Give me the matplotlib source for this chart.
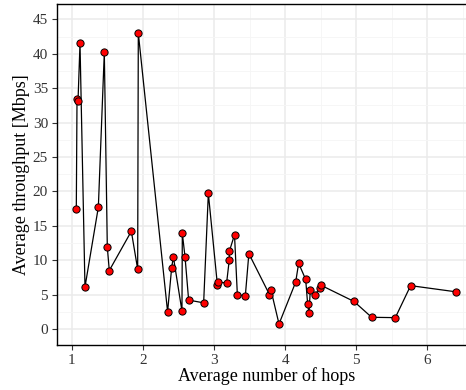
import numpy as np
import matplotlib.pyplot as plt
from matplotlib.ticker import MultipleLocator

# average hops vs throughput
hops = [1.063, 1.073, 1.087, 1.115, 1.185, 1.373, 1.457, 1.499, 1.527, 1.837,
        1.926, 1.935, 2.347, 2.404, 2.428, 2.549, 2.554, 2.592, 2.643, 2.854,
        2.92, 3.048, 3.052, 3.177, 3.214, 3.216, 3.288, 3.328, 3.44, 3.49,
        3.78, 3.80, 3.914, 4.148, 4.19, 4.289, 4.317, 4.336, 4.354, 4.425,
        4.485, 4.505, 4.969, 5.217, 5.55, 5.765, 6.404]
throughput = [17.5, 33.4, 33.1, 41.5, 6.1, 17.7, 40.2, 11.9, 8.5, 14.2,
              8.7, 43.0, 2.5, 8.9, 10.5, 2.6, 13.9, 10.5, 4.2, 3.8,
              19.7, 6.35, 6.8, 6.7, 10.0, 11.3, 13.7, 5.0, 4.8, 10.95,
              5.0, 5.7, 0.73, 6.8, 9.55, 7.2, 3.6, 2.3, 5.7, 5.0,
              6.0, 6.35, 4.0, 1.7, 1.65, 6.3, 5.4]

plt.rcParams['font.family'] = ['Liberation Serif', 'DejaVu Serif']

fig = plt.figure(figsize=(4.66, 3.9), dpi=100)
# the right side of the panel is cut off in the original
ax = fig.add_axes([0.123, 0.1162, 0.8964, 0.873])

ax.plot(hops, throughput, color='black', linewidth=0.9, zorder=3,
        marker='o', markersize=5.2, markerfacecolor='#FF0000',
        markeredgecolor='black', markeredgewidth=0.7)

ax.set_xlim(0.796, 6.671)
ax.set_ylim(-2.28, 47.2)
ax.xaxis.set_major_locator(MultipleLocator(1))
ax.xaxis.set_minor_locator(MultipleLocator(0.5))
ax.yaxis.set_major_locator(MultipleLocator(5))
ax.yaxis.set_minor_locator(MultipleLocator(2.5))

ax.grid(True, which='major', color='#EBEBEB', linewidth=1.1, zorder=0)
ax.grid(True, which='minor', color='#F5F5F5', linewidth=0.6, zorder=0)
ax.set_axisbelow(True)

for side in ['left', 'bottom', 'top']:
    ax.spines[side].set_color('black')
    ax.spines[side].set_linewidth(1.0)
ax.spines['right'].set_visible(False)

ax.tick_params(which='major', direction='out', length=3.5, width=0.8,
               color='#333333', labelsize=11, labelcolor='#333333', pad=3.2)
ax.tick_params(which='minor', length=0)

ax.set_xlabel('Average number of hops', fontsize=13, labelpad=0)
ax.set_ylabel('Average throughput [Mbps]', fontsize=13, labelpad=2)

fig.savefig('out.png', dpi=100)
